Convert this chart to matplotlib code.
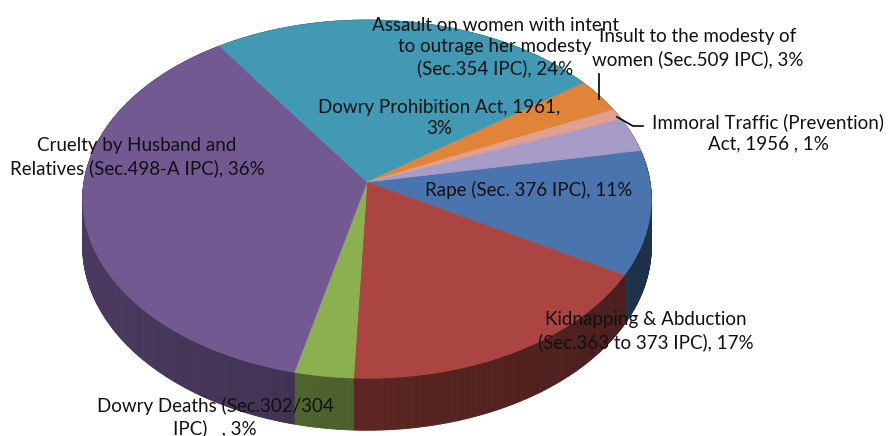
import numpy as np
import matplotlib
matplotlib.use("Agg")
import matplotlib.pyplot as plt
from matplotlib.collections import PolyCollection
from matplotlib.colors import to_rgb

# ---- data (clockwise order, as in the source spreadsheet) ----
categories = [
    "Rape (Sec. 376 IPC)",
    "Kidnapping & Abduction (Sec.363 to 373 IPC)",
    "Dowry Deaths (Sec.302/304 IPC)",
    "Cruelty by Husband and Relatives (Sec.498-A IPC)",
    "Assault on women with intent to outrage her modesty (Sec.354 IPC)",
    "Insult to the modesty of women (Sec.509 IPC)",
    "Immoral Traffic (Prevention) Act, 1956",
    "Dowry Prohibition Act, 1961",
]
values = [11, 17, 3, 36, 24, 3, 1, 3]
labels = [
    "Rape (Sec. 376 IPC), 11%",
    "Kidnapping & Abduction\n(Sec.363 to 373 IPC), 17%",
    "Dowry Deaths (Sec.302/304\nIPC)   , 3%",
    "Cruelty by Husband and\nRelatives (Sec.498-A IPC), 36%",
    "Assault on women with intent\nto outrage her modesty\n(Sec.354 IPC), 24%",
    "Insult to the modesty of\nwomen (Sec.509 IPC), 3%",
    "Immoral Traffic (Prevention)\nAct, 1956 , 1%",
    "Dowry Prohibition Act, 1961,\n3%",
]
colors = ["#4A74AE", "#AA4542", "#8CB04F", "#725992",
          "#4199B4", "#E0843A", "#E0A08F", "#A79BC8"]

# label placement (pixel coords)
label_pos = [(529, 190), (646, 331), (215, 417), (137, 157),
             (495, 47), (698, 48), (768, 133), (439, 118)]

W, H = 891, 436
fig = plt.figure(figsize=(W / 100, H / 100), dpi=100)
ax = fig.add_axes([0, 0, 1, 1])
ax.set_xlim(0, W)
ax.set_ylim(H, 0)
ax.axis("off")

# 3D pie geometry
cx, cy = 367, 182
a, b, k = 283, 177.5, 0.0957
D = 47
start = 10.4  # degrees, first slice begins here and runs clockwise


def proj(th_deg, drop=0.0):
    th = np.radians(th_deg)
    u, v = np.cos(th), np.sin(th)
    w = 1 + k * v
    return cx + a * u / w, cy - b * v / w + drop / w


total = float(sum(values))
bounds = [start]
for val in values:
    bounds.append(bounds[-1] - val / total * 360.0)

# sides
polys, fcs = [], []
for i, col in enumerate(colors):
    t0, t1 = bounds[i], bounds[i + 1]
    n = max(int(abs(t1 - t0) / 0.5), 2)
    ts = np.linspace(t0, t1, n + 1)
    base = np.array(to_rgb(col))
    for j in range(n):
        ta, tb = ts[j], ts[j + 1]
        x1, y1 = proj(ta)
        x2, y2 = proj(tb)
        x3, y3 = proj(tb, D)
        x4, y4 = proj(ta, D)
        tm = np.radians(0.5 * (ta + tb))
        f = 0.535 - 0.12 * np.cos(tm)
        polys.append([(x1, y1), (x2, y2), (x3, y3), (x4, y4)])
        fcs.append(np.clip(base * f, 0, 1))
pc = PolyCollection(polys, facecolors=fcs, edgecolors=fcs, linewidths=0.6, zorder=1)
ax.add_collection(pc)

# top faces
for i, col in enumerate(colors):
    t0, t1 = bounds[i], bounds[i + 1]
    ts = np.linspace(t0, t1, max(int(abs(t1 - t0)), 2) + 1)
    pts = [(cx, cy)] + [proj(t) for t in ts]
    ax.add_patch(plt.Polygon(pts, closed=True, facecolor=col, edgecolor=col,
                             linewidth=0.4, zorder=2))

# labels
for txt, (lx, ly) in zip(labels, label_pos):
    ax.text(lx, ly, txt, ha="center", va="center", fontsize=13.5,
            family="Lato", color="#111111", linespacing=1.3, zorder=5)

# leader lines
ax.plot([599, 599], [74, 99], color="black", lw=1.2, zorder=4)
ax.plot([617, 633, 643], [117, 126, 126], color="black", lw=1.2, zorder=4)

fig.savefig("out.png", dpi=100)
